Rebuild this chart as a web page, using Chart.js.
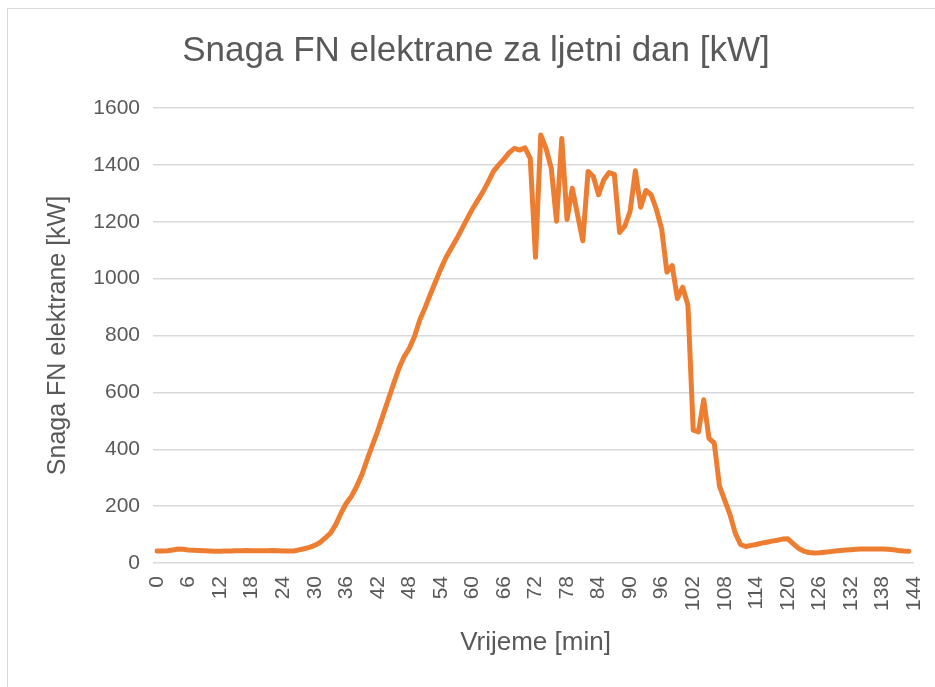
<!DOCTYPE html>
<html>
<head>
<meta charset="utf-8">
<script src="https://cdn.jsdelivr.net/npm/chart.js@4.4.1/dist/chart.umd.min.js"></script>
<style>
  html, body { margin: 0; padding: 0; background: #ffffff; }
  #wrap { position: relative; width: 935px; height: 687px; overflow: hidden; background: #fff; }
  #frame { position: absolute; left: 7px; top: 8px; width: 940px; height: 700px; border: 1.5px solid #d9d9d9; box-sizing: border-box; }
  canvas { position: absolute; left: 0; top: 0; }
</style>
</head>
<body>
<div id="wrap">
  <div id="frame"></div>
  <canvas id="c" width="935" height="687"></canvas>
</div>
<script>
// Categories (time index) 0..144
const categories = Array.from({ length: 145 }, (_, i) => String(i));
// Tick labels shown on the x axis
const xTickLabels = ['0','6','12','18','24','30','36','42','48','54','60','66','72','78','84','90','96','102','108','114','120','126','132','138','144'];
// Power of the PV plant [kW] (indices 0..143)
const powerKW = [
  42,42,43,46,49,48,46,45,44,43,
  42,41,41,42,42,43,43,44,43,43,
  43,43,44,43,42,42,42,46,50,55,
  62,72,88,105,135,175,210,235,270,312,
  365,415,465,520,575,630,683,725,755,797,
  855,898,945,990,1035,1075,1108,1140,1175,1210,
  1245,1275,1305,1340,1377,1400,1420,1443,1458,1452,
  1460,1423,1075,1505,1458,1388,1202,1493,1208,1318,
  1225,1133,1377,1359,1295,1348,1373,1367,1162,1185,
  1237,1379,1251,1310,1295,1243,1174,1023,1046,930,
  970,906,467,461,574,438,422,270,220,170,
  105,65,58,62,65,70,73,77,80,84,
  85,68,52,42,37,35,36,38,40,42,
  44,46,47,48,49,49,49,49,49,48,
  47,44,42,41
];
const yTicks = [0,200,400,600,800,1000,1200,1400,1600];

const textColor = '#595959';
const gridColor = '#d9d9d9';
const fontFam = "'Liberation Sans', Arial, sans-serif";

new Chart(document.getElementById('c'), {
  type: 'line',
  data: {
    labels: categories,
    datasets: [{
      label: 'Snaga FN elektrane',
      data: powerKW,
      borderColor: '#ED7D31',
      backgroundColor: '#ED7D31',
      borderWidth: 5,
      pointRadius: 0,
      tension: 0,
      fill: false,
      borderCapStyle: 'round',
      borderJoinStyle: 'round'
    }]
  },
  options: {
    responsive: false,
    animation: false,
    devicePixelRatio: 1,
    layout: { padding: { left: 17, right: 0, top: 0, bottom: 0 } },
    plugins: {
      legend: { display: false },
      tooltip: { enabled: false },
      title: {
        display: true,
        text: 'Snaga FN elektrane za ljetni dan [kW]',
        color: textColor,
        font: { family: fontFam, size: 35, weight: 'normal' },
        padding: { top: 30, bottom: 36 }
      }
    },
    scales: {
      x: {
        type: 'category',
        offset: false,
        grid: { display: false },
        border: { display: false },
        ticks: {
          autoSkip: false,
          minRotation: 90,
          maxRotation: 90,
          padding: 5,
          color: textColor,
          font: { family: fontFam, size: 21 },
          callback: function (value, index) {
            const lab = categories[index];
            return xTickLabels.includes(lab) ? lab : null;
          }
        },
        title: {
          display: true,
          text: 'Vrijeme [min]',
          color: textColor,
          font: { family: fontFam, size: 26 },
          padding: { top: 4, bottom: 29 }
        },
        afterFit: function (s) {
          s.height = 687 - 563;
          s.paddingRight = 21;
          s.paddingLeft = 0;
        }
      },
      y: {
        min: 0,
        max: 1600,
        grid: { color: gridColor, lineWidth: 1.5, drawTicks: true, tickLength: 4, tickColor: gridColor },
        border: { display: false },
        afterBuildTicks: function (s) { s.ticks = yTicks.map(v => ({ value: v })); },
        ticks: {
          padding: 13,
          color: textColor,
          font: { family: fontFam, size: 21 },
          callback: function (v) { return String(v); }
        },
        title: {
          display: true,
          text: 'Snaga FN elektrane [kW]',
          color: textColor,
          font: { family: fontFam, size: 25 },
          padding: { top: 26, bottom: 0 }
        },
        afterFit: function (s) { s.width = 140; }
      }
    }
  }
});
</script>
</body>
</html>
